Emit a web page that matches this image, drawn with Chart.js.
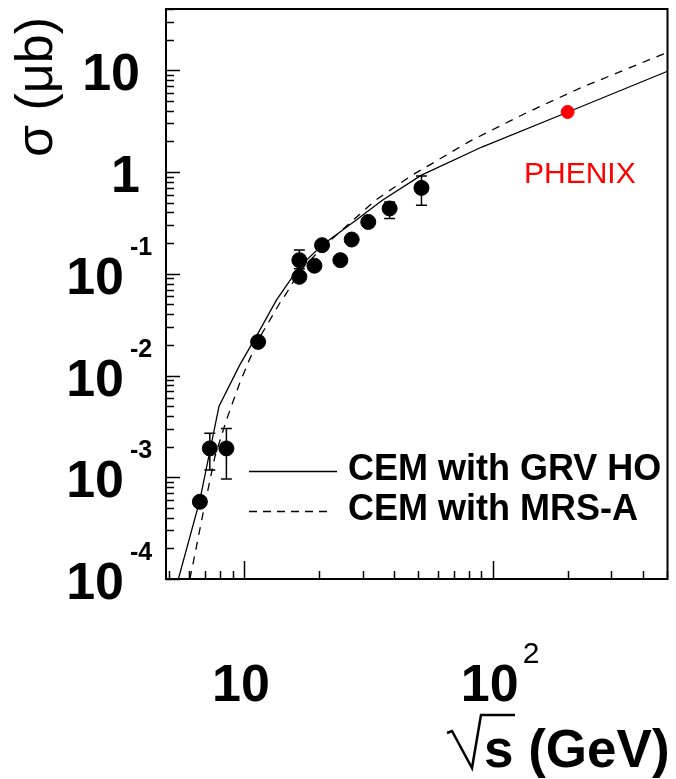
<!DOCTYPE html>
<html>
<head>
<meta charset="utf-8">
<script src="https://cdn.jsdelivr.net/npm/chart.js@4/dist/chart.umd.min.js"></script>
<style>
  body { margin: 0; background: #fff; }
  canvas { display: block; }
</style>
</head>
<body>
<canvas id="chartSigma" width="676" height="779"></canvas>
<script>
// data points (sqrt(s) in GeV, sigma in microbarn)
const dataX = [6.65, 7.29, 8.50, 11.4, 16.7, 16.7, 19.2, 20.6, 24.4, 27.1, 31.6, 38.5, 51.7];
const dataY = [5.74e-4, 1.92e-3, 1.92e-3, 0.0214, 0.136, 0.0933, 0.120, 0.191, 0.136, 0.217, 0.323, 0.438, 0.698];
const dataHi = [5.74e-4, 2.70e-3, 3.02e-3, 0.0214, 0.171, 0.0933, 0.120, 0.191, 0.136, 0.217, 0.323, 0.508, 0.916];
const dataLo = [5.74e-4, 1.18e-3, 9.6e-4, 0.0214, 0.112, 0.0933, 0.120, 0.191, 0.136, 0.217, 0.323, 0.349, 0.472];

const phenixX = [200];
const phenixY = [3.89];

// CEM curves
const grvX = [5.45, 6.65, 7.94, 9.61, 11.4, 13.5, 16.7, 20.6, 28.2, 36.0, 51.7, 90.4, 200.9, 504];
const grvY = [1.0e-4, 5.97e-4, 5.0e-3, 0.01265, 0.0261, 0.0551, 0.117, 0.191, 0.336, 0.528, 0.931, 1.76, 3.89, 9.78];
const mrsX = [6.06, 6.25, 6.85, 7.64, 8.50, 9.61, 10.5, 11.6, 13.9, 14.8, 16.7, 20.6, 33.8, 47.4, 57.0, 80.0, 134.8, 227, 460, 504];
const mrsY = [1e-4, 1.44e-4, 4.45e-4, 1.59e-3, 3.65e-3, 8.41e-3, 0.01416, 0.024, 0.051, 0.064, 0.105, 0.18, 0.528, 0.931, 1.21, 1.98, 3.76, 6.76, 13.7, 15.0];

// tick labels
const xTickValues = [10, 100];
const xTickBase = ['10', '10'];
const xTickExp = ['', '2'];
const yTickValues = [1e-4, 1e-3, 1e-2, 0.1, 1, 10];
const yTickBase = ['10', '10', '10', '10', '1', '10'];
const yTickExp = ['-4', '-3', '-2', '-1', '', ''];

const legendLabels = ['CEM with GRV HO', 'CEM with MRS-A'];

const FONT = '"Liberation Sans", Arial, sans-serif';

function pts(xs, ys) {
    return xs.map((x, i) => ({ x: x, y: ys[i] }));
}

const rootAxes = {
    id: 'rootAxes',
    beforeDatasetsDraw(chart) {
        const ctx = chart.ctx;
        const sx = chart.scales.x, sy = chart.scales.y;
        // error bars
        ctx.save();
        ctx.strokeStyle = '#000';
        ctx.lineWidth = 1.5;
        for (let i = 0; i < dataX.length; i++) {
            const px = sx.getPixelForValue(dataX[i]);
            const pHi = sy.getPixelForValue(dataHi[i]);
            const pLo = sy.getPixelForValue(dataLo[i]);
            if (Math.abs(pHi - pLo) < 1) continue;
            ctx.beginPath();
            ctx.moveTo(px, pHi); ctx.lineTo(px, pLo);
            ctx.moveTo(px - 5.5, pHi); ctx.lineTo(px + 5.5, pHi);
            ctx.moveTo(px - 5.5, pLo); ctx.lineTo(px + 5.5, pLo);
            ctx.stroke();
        }
        ctx.restore();
    },
    afterDraw(chart) {
        const ctx = chart.ctx;
        const a = chart.chartArea;
        const sx = chart.scales.x, sy = chart.scales.y;
        ctx.save();
        ctx.strokeStyle = '#000';
        ctx.lineWidth = 2;
        ctx.strokeRect(a.left, a.top, a.right - a.left, a.bottom - a.top);

        // ticks inside the frame
        ctx.lineWidth = 1.5;
        ctx.beginPath();
        for (let e = -5; e <= 2; e++) {
            for (let m = 1; m <= 9; m++) {
                const v = m * Math.pow(10, e);
                if (v < sy.min || v > sy.max) continue;
                const py = Math.round(sy.getPixelForValue(v)) + 0.5;
                ctx.moveTo(a.left, py);
                ctx.lineTo(a.left + (m === 1 ? 14 : 8), py);
            }
        }
        for (let e = 0; e <= 3; e++) {
            for (let m = 1; m <= 9; m++) {
                const v = m * Math.pow(10, e);
                if (v < sx.min || v > sx.max) continue;
                const px = Math.round(sx.getPixelForValue(v)) + 0.5;
                ctx.moveTo(px, a.bottom);
                ctx.lineTo(px, a.bottom - (m === 1 ? 18 : 8));
            }
        }
        ctx.stroke();

        // y tick labels
        ctx.fillStyle = '#000';
        yTickValues.forEach((v, i) => {
            const py = sy.getPixelForValue(v);
            ctx.font = 'bold 52px ' + FONT;
            ctx.textBaseline = 'alphabetic';
            if (yTickExp[i]) {
                ctx.textAlign = 'right';
                ctx.fillText(yTickBase[i], 124, py + 20);
                ctx.font = 'bold 25px ' + FONT;
                ctx.textAlign = 'left';
                ctx.fillText(yTickExp[i], 130, py - 19);
            } else {
                ctx.textAlign = 'right';
                ctx.fillText(yTickBase[i], 140, py + 20);
            }
        });

        // x tick labels
        xTickValues.forEach((v, i) => {
            const px = sx.getPixelForValue(v) - 3;
            ctx.font = 'bold 52px ' + FONT;
            ctx.textAlign = 'center';
            ctx.textBaseline = 'alphabetic';
            ctx.fillText(xTickBase[i], px, 701);
            if (xTickExp[i]) {
                const w = ctx.measureText(xTickBase[i]).width;
                ctx.font = '30px ' + FONT;
                ctx.textAlign = 'left';
                ctx.fillText(xTickExp[i], px + w / 2 + 4, 663);
            }
        });

        // x title with a drawn radical
        ctx.font = 'bold 53px ' + FONT;
        ctx.textAlign = 'left';
        ctx.fillText('s (GeV)', 484, 767);
        ctx.lineWidth = 2.5;
        ctx.beginPath();
        ctx.moveTo(447, 733);
        ctx.lineTo(452, 731);
        ctx.lineTo(472, 768);
        ctx.lineTo(481, 715);
        ctx.lineTo(515, 715);
        ctx.stroke();

        // y title
        ctx.save();
        ctx.translate(52, 87);
        ctx.rotate(-Math.PI / 2);
        ctx.font = '52px ' + FONT;
        ctx.textAlign = 'center';
        ctx.fillText('\u03c3 (\u03bcb)', 0, 0);
        ctx.restore();

        // PHENIX label
        ctx.fillStyle = '#ff0000';
        ctx.font = '30px ' + FONT;
        ctx.textAlign = 'left';
        ctx.fillText('PHENIX', 524, 183);

        // legend
        ctx.fillStyle = '#000';
        ctx.strokeStyle = '#000';
        ctx.lineWidth = 1.5;
        ctx.beginPath();
        ctx.moveTo(249, 471.5); ctx.lineTo(337, 471.5);
        ctx.stroke();
        ctx.setLineDash([8, 6]);
        ctx.beginPath();
        ctx.moveTo(249, 511.5); ctx.lineTo(333, 511.5);
        ctx.stroke();
        ctx.setLineDash([]);
        ctx.font = 'bold 36px ' + FONT;
        ctx.fillText(legendLabels[0], 348, 480);
        ctx.fillText(legendLabels[1], 348, 520);
        ctx.restore();
    }
};

const ctx = document.getElementById('chartSigma').getContext('2d');
const chartSigma = new Chart(ctx, {
    type: 'scatter',
    data: {
        datasets: [
            {
                label: 'data',
                data: pts(dataX, dataY),
                backgroundColor: '#000',
                borderColor: '#000',
                pointRadius: 7.5,
                showLine: false
            },
            {
                label: 'PHENIX',
                data: pts(phenixX, phenixY),
                backgroundColor: '#ff0000',
                borderColor: '#ff0000',
                pointRadius: 6.5,
                showLine: false
            },
            {
                label: legendLabels[0],
                data: pts(grvX, grvY),
                showLine: true,
                borderColor: '#000',
                borderWidth: 1.3,
                pointRadius: 0,
                tension: 0
            },
            {
                label: legendLabels[1],
                data: pts(mrsX, mrsY),
                showLine: true,
                borderColor: '#000',
                borderWidth: 1.3,
                borderDash: [8, 7],
                pointRadius: 0,
                tension: 0
            }
        ]
    },
    options: {
        responsive: false,
        animation: false,
        layout: { padding: { left: 166, top: 9, right: 6, bottom: 200 } },
        plugins: {
            legend: { display: false },
            tooltip: { enabled: false }
        },
        scales: {
            x: { type: 'logarithmic', min: 4.86, max: 504, display: false },
            y: { type: 'logarithmic', min: 1e-4, max: 40, display: false }
        }
    },
    plugins: [rootAxes]
});
</script>
</body>
</html>
